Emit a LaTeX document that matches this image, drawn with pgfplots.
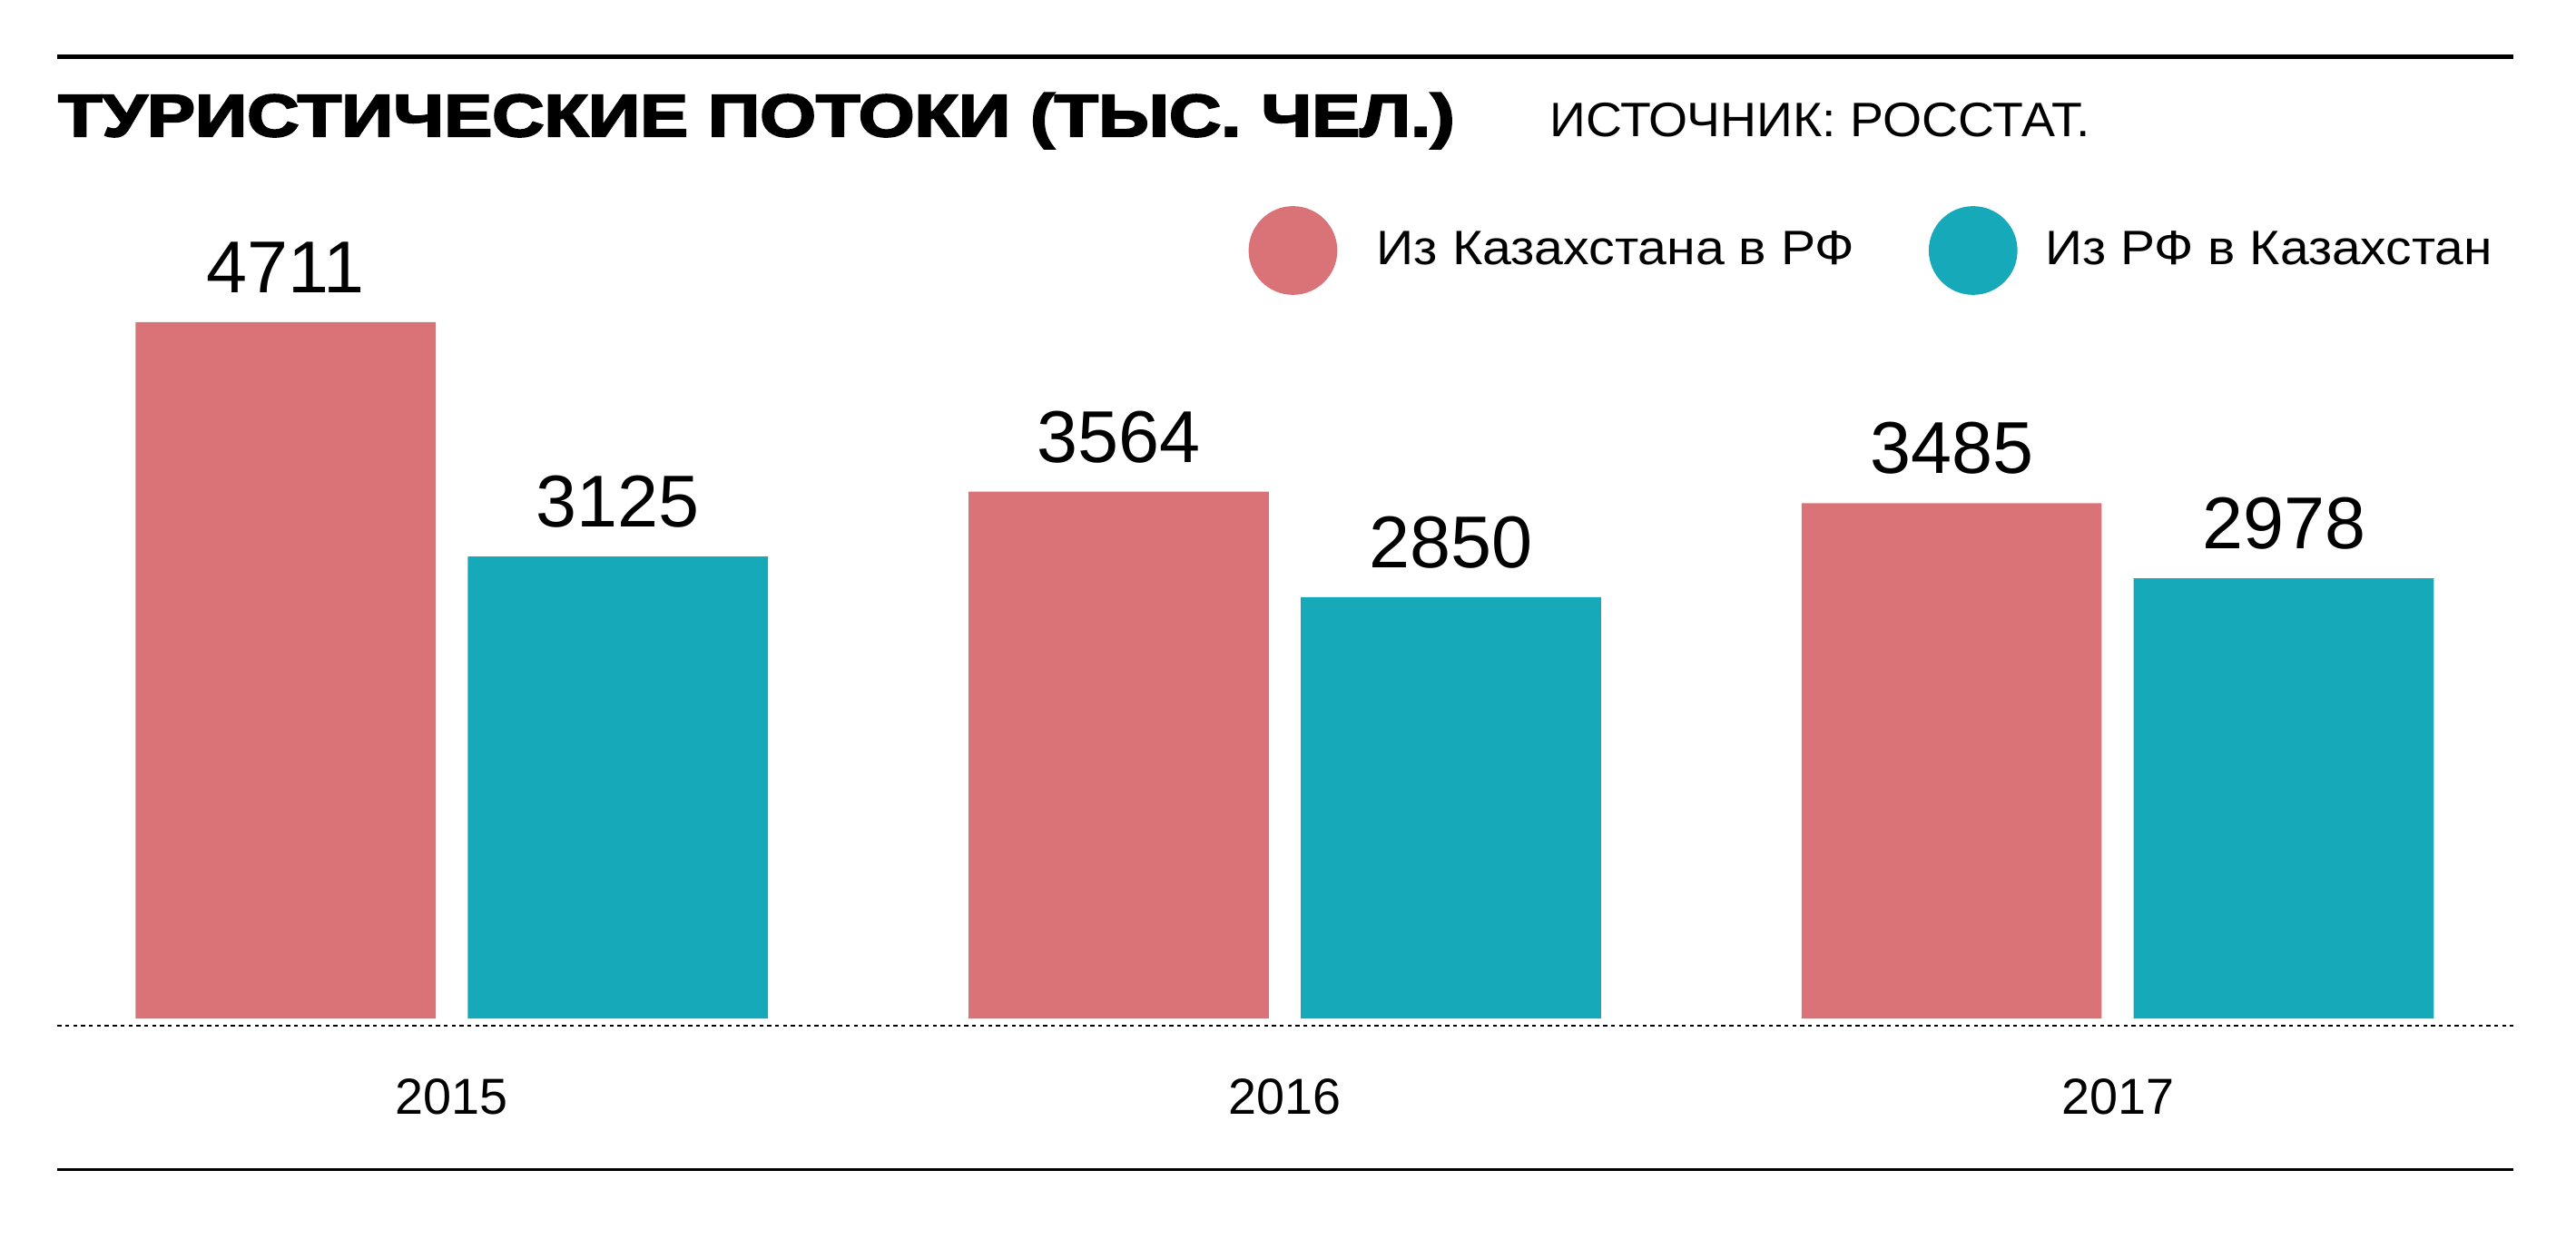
\documentclass[border=0pt]{standalone}
\usepackage{fontspec}
\setmainfont{Liberation Sans}
\newfontfamily\titlefont[BoldFeatures={FakeBold=3}]{Liberation Sans}
\usepackage{graphicx}
\usepackage{pgfplots}
\pgfplotsset{compat=1.18}
\definecolor{pinkc}{HTML}{D97378}
\definecolor{tealc}{HTML}{15A9BA}
\begin{document}
\begin{tikzpicture}
\path[use as bounding box] (0,0) rectangle (784pt,380pt);
\draw[line width=1.4pt] (17.5pt,362.75pt) -- (765pt,362.75pt);
\draw[line width=0.75pt] (17.5pt,24pt) -- (765pt,24pt);
\node[anchor=base west, inner sep=0pt, font=\titlefont\bfseries\fontsize{18.2pt}{20pt}\selectfont] at (17.5pt,338.5pt) {\resizebox{425pt}{\height}{ТУРИСТИЧЕСКИЕ ПОТОКИ (ТЫС. ЧЕЛ.)}};
\node[anchor=base west, inner sep=0pt, font=\fontsize{14.7pt}{17pt}\selectfont] at (471.5pt,338.5pt) {\resizebox{164.5pt}{\height}{ИСТОЧНИК: РОССТАТ.}};
\begin{axis}[
  at={(17.5pt,67.75pt)}, anchor=south west,
  scale only axis, width=747.5pt, height=262.25pt,
  xmin=-0.4734, xmax=2.4753, ymin=-50, ymax=5778,
  axis x line=bottom, axis y line=none,
  x axis line style={-, line width=0.55pt, dash pattern=on 1.2pt off 1.2pt},
  xtick={0,1,2}, xticklabels={2015,2016,2017},
  xtick style={draw=none}, major tick length=0pt,
  xticklabel style={anchor=base, yshift=-26.75pt, inner sep=0pt, font=\fontsize{15.4pt}{18pt}\selectfont},
  ytick=\empty,
  ybar, bar width=0.3604,
  point meta=explicit symbolic,
  nodes near coords,
  every node near coord/.append style={anchor=base, yshift=9pt, inner sep=0pt, font=\fontsize{22.35pt}{26pt}\selectfont, text=black},
  legend columns=2,
  legend style={at={(0.48495,0.9514)}, anchor=north west, draw=none, fill=none, inner sep=0pt, outer sep=0pt,
    font=\fontsize{14.7pt}{17pt}\selectfont, nodes={inner sep=0pt}, row sep=0pt,
    /tikz/every even column/.append style={column sep=22.5pt}},
  clip=false,
]
\addplot[fill=pinkc, draw=none, bar shift=-0.1994,
  legend image code/.code={\fill[pinkc] (13.5pt,0pt) circle (13.5pt); \path (39pt,0pt);}]
  coordinates {(0,4711) [4711] (1,3564) [3564] (2,3485) [3485]};
\addlegendentry{\resizebox{145.5pt}{\height}{Из Казахстана в РФ}}
\addplot[fill=tealc, draw=none, bar shift=0.1994,
  legend image code/.code={\fill[tealc] (13.5pt,0pt) circle (13.5pt); \path (35.5pt,0pt);}]
  coordinates {(0,3125) [3125] (1,2850) [2850] (2,2978) [2978]};
\addlegendentry{\resizebox{136pt}{\height}{Из РФ в Казахстан}}
\end{axis}
\end{tikzpicture}
\end{document}
